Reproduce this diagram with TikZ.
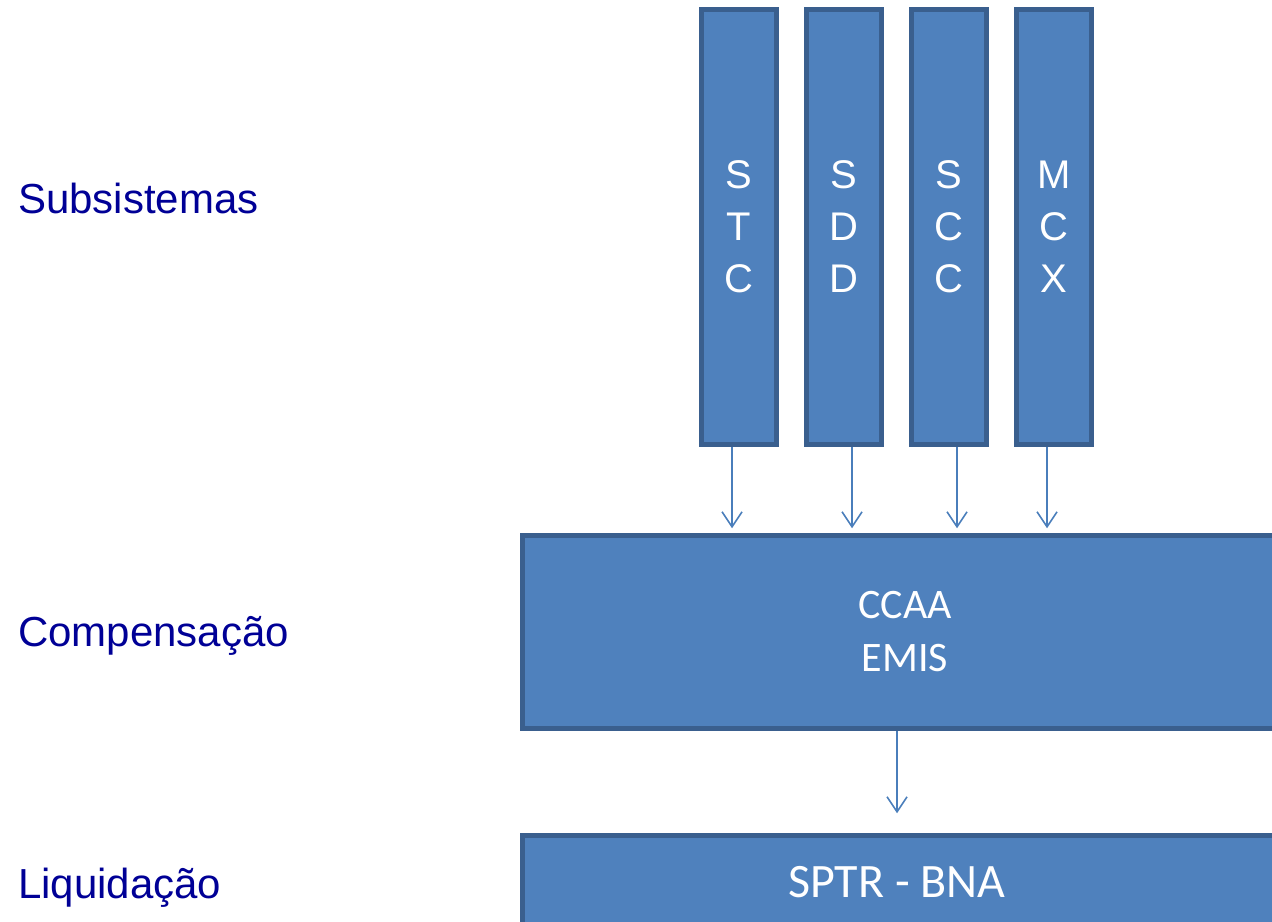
\documentclass[tikz,border=0pt]{standalone}
\usepackage{fontspec}
\setmainfont{Liberation Sans}
\newfontfamily\calfont{Carlito}
\usetikzlibrary{arrows.meta}
\definecolor{boxfill}{HTML}{4F81BD}
\definecolor{boxline}{HTML}{3A5F8E}
\definecolor{arrcol}{HTML}{4A7EBB}
\definecolor{labcol}{RGB}{0,0,150}
\tikzset{
  box/.style={draw=boxline, fill=boxfill, line width=4.5bp, inner sep=0pt, text=white, align=center},
  colbox/.style={box, minimum width=75bp, minimum height=435bp, font=\fontsize{40bp}{52bp}\selectfont},
  bigbox/.style={box, font=\calfont\fontsize{42bp}{53bp}\selectfont},
  lab/.style={anchor=base west, text=labcol, inner sep=0pt, font=\fontsize{42bp}{50bp}\selectfont},
  arr/.style={draw=arrcol, line width=1.6bp, -{Straight Barb[length=15bp, width=20bp, line width=1.6bp]}}
}
\begin{document}
\begin{tikzpicture}[x=1bp, y=-1bp]
\useasboundingbox (0,0) rectangle (1272,922);
\clip (0,0) rectangle (1272,922);
% column boxes
\node[colbox] (stc) at (739,227) {S\\T\\C};
\node[colbox] (sdd) at (844,227) {S\\D\\D};
\node[colbox] (scc) at (949,227) {S\\C\\C};
\node[colbox] (mcx) at (1054,227) {M\\C\\X};
% big boxes
\node[bigbox, minimum width=765bp, minimum height=193bp] (ccaa) at (905,632) {CCAA\\EMIS};
\node[bigbox, minimum width=765bp, minimum height=93bp, font=\calfont\fontsize{48bp}{56bp}\selectfont] (sptr) at (905,882) {SPTR - BNA\hspace*{16bp}};
% labels
\node[lab] (l1) at (18,213) {Subsistemas};
\node[lab] (l2) at (18,646) {Compensação};
\node[lab] (l3) at (18,898) {Liquidação};
% arrows
\draw[arr, shorten >=5bp] ([xshift=-7bp]stc.south) -- ([xshift=-7bp]stc.south |- ccaa.north);
\draw[arr, shorten >=5bp] ([xshift=8bp]sdd.south) -- ([xshift=8bp]sdd.south |- ccaa.north);
\draw[arr, shorten >=5bp] ([xshift=8bp]scc.south) -- ([xshift=8bp]scc.south |- ccaa.north);
\draw[arr, shorten >=5bp] ([xshift=-7bp]mcx.south) -- ([xshift=-7bp]mcx.south |- ccaa.north);
\draw[arr, shorten >=20bp] (ccaa.south -| 897,0) -- (sptr.north -| 897,0);
\end{tikzpicture}
\end{document}
